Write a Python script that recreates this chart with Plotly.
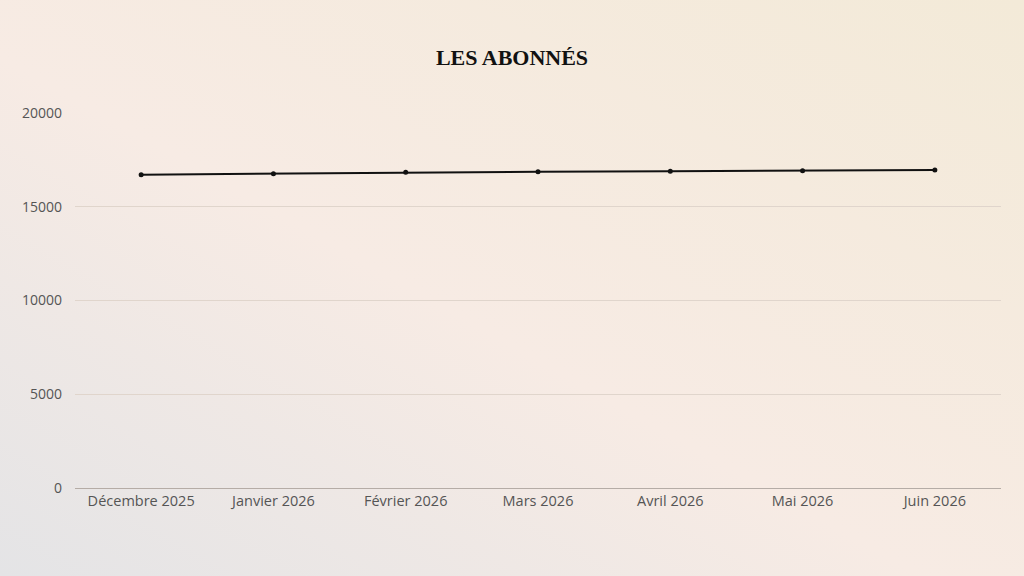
import base64
import plotly.graph_objects as go

# Données
mois = ["Décembre 2025", "Janvier 2026", "Février 2026", "Mars 2026",
        "Avril 2026", "Mai 2026", "Juin 2026"]
abonnes = [16710, 16765, 16835, 16870, 16890, 16925, 16960]
y_ticks = [0, 5000, 10000, 15000, 20000]

# Fond en dégradé (gris en bas à gauche -> rosé -> beige en haut à droite)
svg = """<svg xmlns='http://www.w3.org/2000/svg' width='1024' height='576'>
<defs><linearGradient id='g' x1='0' y1='1' x2='1' y2='0'>
<stop offset='0' stop-color='#e4e4e6'/>
<stop offset='0.45' stop-color='#f7ebe4'/>
<stop offset='1' stop-color='#f3ead8'/>
</linearGradient></defs>
<rect width='1024' height='576' fill='url(#g)'/></svg>"""
bg = "data:image/svg+xml;base64," + base64.b64encode(svg.encode()).decode()

fig = go.Figure()
fig.add_trace(go.Scatter(
    x=mois, y=abonnes, mode="lines+markers",
    line=dict(color="#111111", width=2),
    marker=dict(color="#111111", size=5),
    hoverinfo="x+y",
))

fig.update_layout(
    width=1024, height=576,
    paper_bgcolor="#f6ece2", plot_bgcolor="rgba(0,0,0,0)",
    margin=dict(l=75, r=23, t=113, b=88),
    title=dict(text="<b>LES ABONNÉS</b>", x=0.5, xanchor="center", y=0.9, yanchor="middle",
               font=dict(family="Liberation Serif, DejaVu Serif, serif", size=22, color="#111111")),
    font=dict(family="Open Sans, sans-serif", size=14, color="#555555"),
    showlegend=False,
    images=[dict(source=bg, xref="paper", yref="paper", x=-75/926, y=1 + 113/375,
                 sizex=1024/926, sizey=576/375, xanchor="left", yanchor="top",
                 sizing="stretch", layer="below")],
)
fig.update_xaxes(type="category", range=[-0.5, len(mois) - 0.5], showgrid=False,
                 showline=True, linecolor="#b5aca6", linewidth=1, ticks="",
                 tickfont=dict(size=14.5, color="#555555"))
fig.update_yaxes(range=[0, 20000], tickvals=y_ticks, tickformat="d", showgrid=True,
                 gridcolor="#e0d5cc", gridwidth=1, zeroline=False, showline=False, ticks="",
                 ticklabelstandoff=12, tickfont=dict(size=14, color="#555555"))

# pas de marge blanche autour du graphique
fig.write_html("out.html", config={"displayModeBar": False},
               post_script="document.body.style.margin='0';")
